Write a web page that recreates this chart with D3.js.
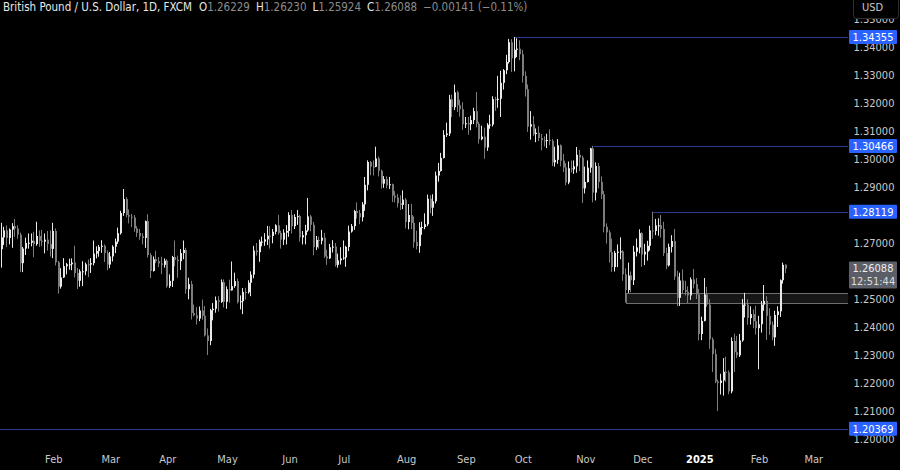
<!DOCTYPE html>
<html>
<head>
<meta charset="utf-8">
<title>British Pound / U.S. Dollar, 1D</title>
<script src="https://cdnjs.cloudflare.com/ajax/libs/d3/7.8.5/d3.min.js"></script>
<style>
  html, body { margin: 0; padding: 0; background: #000; }
  svg { display: block; }
  text { font-family: "Liberation Sans Narrow", "DejaVu Sans Condensed", "Roboto", sans-serif; }
</style>
</head>
<body>
<script>
// daily candles, one [open, high, low, close] row per trading day, one array per month
var jan24 = [
  [1.2620,1.2705,1.2610,1.2678],[1.2678,1.2772,1.2612,1.2720],[1.2720,1.2758,1.2693,1.2745],[1.2745,1.2763,1.2686,1.2718],
  [1.2718,1.2752,1.2695,1.2748],[1.2748,1.2771,1.2683,1.2760],[1.2760,1.2786,1.2722,1.2752],[1.2752,1.2763,1.2715,1.2730],
  [1.2730,1.2737,1.2597,1.2628],[1.2628,1.2686,1.2596,1.2680],[1.2680,1.2719,1.2657,1.2700],[1.2700,1.2734,1.2680,1.2701],
  [1.2701,1.2734,1.2688,1.2708],[1.2708,1.2740,1.2649,1.2696],[1.2696,1.2776,1.2690,1.2725],[1.2725,1.2745,1.2686,1.2708],
  [1.2708,1.2747,1.2688,1.2705],[1.2705,1.2734,1.2663,1.2712],[1.2712,1.2743,1.2673,1.2696],[1.2696,1.2745,1.2652,1.2679]
];
var feb24 = [
  [1.2679,1.2772,1.2646,1.2743],[1.2743,1.2752,1.2620,1.2631],[1.2631,1.2636,1.2519,1.2544],[1.2544,1.2610,1.2537,1.2577],
  [1.2577,1.2646,1.2575,1.2617],[1.2617,1.2629,1.2588,1.2624],[1.2624,1.2644,1.2605,1.2624],[1.2624,1.2645,1.2603,1.2630],
  [1.2630,1.2690,1.2577,1.2593],[1.2593,1.2611,1.2536,1.2565],[1.2565,1.2606,1.2544,1.2599],[1.2599,1.2635,1.2546,1.2599],
  [1.2599,1.2630,1.2585,1.2624],[1.2624,1.2641,1.2578,1.2623],[1.2623,1.2646,1.2593,1.2628],[1.2628,1.2709,1.2620,1.2662],
  [1.2662,1.2688,1.2645,1.2671],[1.2671,1.2693,1.2651,1.2686],[1.2686,1.2710,1.2665,1.2690],[1.2690,1.2695,1.2632,1.2664],
  [1.2664,1.2674,1.2603,1.2623]
];
var mar24 = [
  [1.2623,1.2668,1.2610,1.2652],[1.2652,1.2692,1.2634,1.2687],[1.2687,1.2716,1.2664,1.2705],[1.2705,1.2755,1.2697,1.2735],
  [1.2735,1.2815,1.2730,1.2807],[1.2807,1.2893,1.2797,1.2857],[1.2857,1.2864,1.2792,1.2800],[1.2800,1.2820,1.2770,1.2794],
  [1.2794,1.2804,1.2757,1.2791],[1.2791,1.2800,1.2740,1.2752],[1.2752,1.2760,1.2722,1.2736],[1.2736,1.2750,1.2712,1.2724],
  [1.2724,1.2735,1.2695,1.2718],[1.2718,1.2780,1.2683,1.2778],[1.2778,1.2803,1.2648,1.2657],[1.2657,1.2664,1.2575,1.2600],
  [1.2600,1.2652,1.2598,1.2642],[1.2642,1.2672,1.2628,1.2635],[1.2635,1.2650,1.2614,1.2627],[1.2627,1.2651,1.2589,1.2622],
  [1.2622,1.2645,1.2612,1.2637]
];
var apr24 = [
  [1.2637,1.2643,1.2540,1.2546],[1.2546,1.2588,1.2539,1.2565],[1.2565,1.2654,1.2543,1.2650],[1.2650,1.2709,1.2617,1.2640],
  [1.2640,1.2655,1.2576,1.2635],[1.2635,1.2678,1.2604,1.2664],[1.2664,1.2709,1.2642,1.2675],[1.2675,1.2683,1.2519,1.2535],
  [1.2535,1.2576,1.2499,1.2553],[1.2553,1.2565,1.2427,1.2450],[1.2450,1.2480,1.2438,1.2442],[1.2442,1.2471,1.2409,1.2430],
  [1.2430,1.2473,1.2421,1.2459],[1.2459,1.2498,1.2426,1.2440],[1.2440,1.2475,1.2366,1.2370],[1.2370,1.2395,1.2300,1.2350],
  [1.2350,1.2465,1.2335,1.2460],[1.2460,1.2486,1.2424,1.2465],[1.2465,1.2509,1.2451,1.2495],[1.2495,1.2510,1.2455,1.2490],
  [1.2490,1.2570,1.2486,1.2560],[1.2560,1.2570,1.2470,1.2490]
];
var may24 = [
  [1.2490,1.2545,1.2465,1.2535],[1.2535,1.2569,1.2487,1.2531],[1.2531,1.2634,1.2530,1.2546],[1.2546,1.2594,1.2540,1.2564],
  [1.2564,1.2573,1.2484,1.2489],[1.2489,1.2513,1.2463,1.2492],[1.2492,1.2539,1.2446,1.2525],[1.2525,1.2540,1.2498,1.2524],
  [1.2524,1.2567,1.2519,1.2558],[1.2558,1.2599,1.2510,1.2587],[1.2587,1.2690,1.2574,1.2673],[1.2673,1.2700,1.2655,1.2667],
  [1.2667,1.2712,1.2633,1.2705],[1.2705,1.2723,1.2688,1.2705],[1.2705,1.2735,1.2690,1.2713],[1.2713,1.2761,1.2693,1.2726],
  [1.2726,1.2760,1.2680,1.2725],[1.2725,1.2750,1.2699,1.2740],[1.2740,1.2767,1.2731,1.2763],[1.2763,1.2801,1.2730,1.2736],
  [1.2736,1.2744,1.2680,1.2712],[1.2712,1.2749,1.2693,1.2737],[1.2737,1.2764,1.2695,1.2743]
];
var jun24 = [
  [1.2743,1.2810,1.2722,1.2800],[1.2800,1.2818,1.2734,1.2760],[1.2760,1.2803,1.2750,1.2793],[1.2793,1.2818,1.2765,1.2796],
  [1.2796,1.2801,1.2705,1.2720],[1.2720,1.2743,1.2695,1.2728],[1.2728,1.2765,1.2695,1.2745],[1.2745,1.2861,1.2740,1.2795],
  [1.2795,1.2800,1.2742,1.2765],[1.2765,1.2775,1.2656,1.2685],[1.2685,1.2725,1.2675,1.2711],[1.2711,1.2723,1.2680,1.2708],
  [1.2708,1.2747,1.2695,1.2719],[1.2719,1.2736,1.2647,1.2652],[1.2652,1.2676,1.2622,1.2645],[1.2645,1.2697,1.2643,1.2685],
  [1.2685,1.2710,1.2666,1.2687],[1.2687,1.2700,1.2616,1.2622],[1.2622,1.2662,1.2612,1.2638],[1.2638,1.2685,1.2623,1.2645]
];
var jul24 = [
  [1.2645,1.2709,1.2640,1.2648],[1.2648,1.2690,1.2615,1.2686],[1.2686,1.2762,1.2671,1.2741],[1.2741,1.2768,1.2737,1.2760],
  [1.2760,1.2818,1.2747,1.2814],[1.2814,1.2845,1.2787,1.2807],[1.2807,1.2818,1.2767,1.2792],[1.2792,1.2846,1.2777,1.2838],
  [1.2838,1.2936,1.2815,1.2908],[1.2908,1.2995,1.2888,1.2989],[1.2989,1.2993,1.2942,1.2973],[1.2973,1.2995,1.2941,1.2972],
  [1.2972,1.3044,1.2971,1.3002],[1.3002,1.3009,1.2938,1.2958],[1.2958,1.2962,1.2894,1.2912],[1.2912,1.2939,1.2897,1.2928],
  [1.2928,1.2938,1.2895,1.2906],[1.2906,1.2936,1.2893,1.2910],[1.2910,1.2912,1.2846,1.2869],[1.2869,1.2885,1.2845,1.2862],
  [1.2862,1.2875,1.2827,1.2842],[1.2842,1.2870,1.2818,1.2836],[1.2836,1.2888,1.2821,1.2855]
];
var aug24 = [
  [1.2855,1.2861,1.2752,1.2775],[1.2775,1.2839,1.2749,1.2800],[1.2800,1.2840,1.2750,1.2772],[1.2772,1.2795,1.2683,1.2703],
  [1.2703,1.2744,1.2677,1.2689],[1.2689,1.2774,1.2665,1.2756],[1.2756,1.2776,1.2729,1.2757],[1.2757,1.2806,1.2749,1.2767],
  [1.2767,1.2873,1.2760,1.2858],[1.2858,1.2871,1.2806,1.2826],[1.2826,1.2874,1.2797,1.2849],[1.2849,1.2955,1.2841,1.2941],
  [1.2941,1.2986,1.2919,1.2957],[1.2957,1.3022,1.2955,1.3004],[1.3004,1.3103,1.3002,1.3086],[1.3086,1.3130,1.3079,1.3091],
  [1.3091,1.3229,1.3082,1.3213],[1.3213,1.3230,1.3150,1.3185],[1.3185,1.3266,1.3175,1.3238],[1.3238,1.3244,1.3168,1.3192],
  [1.3192,1.3212,1.3151,1.3178],[1.3178,1.3203,1.3104,1.3124]
];
var sep24 = [
  [1.3124,1.3150,1.3111,1.3128],[1.3128,1.3150,1.3087,1.3124],[1.3124,1.3155,1.3103,1.3139],[1.3139,1.3183,1.3125,1.3171],
  [1.3171,1.3239,1.3113,1.3126],[1.3126,1.3133,1.3055,1.3071],[1.3071,1.3119,1.3067,1.3080],[1.3080,1.3112,1.3001,1.3041],
  [1.3041,1.3128,1.3029,1.3122],[1.3122,1.3158,1.3108,1.3123],[1.3123,1.3224,1.3116,1.3214],[1.3214,1.3222,1.3172,1.3213],
  [1.3213,1.3297,1.3183,1.3215],[1.3215,1.3315,1.3150,1.3272],[1.3272,1.3321,1.3248,1.3317],[1.3317,1.3372,1.3303,1.3346],
  [1.3346,1.3429,1.3341,1.3417],[1.3417,1.3428,1.3311,1.3360],[1.3360,1.34355,1.3313,1.3390],[1.3390,1.3431,1.3364,1.3394],
  [1.3394,1.3424,1.3353,1.3374]
];
var oct24 = [
  [1.3374,1.3390,1.3273,1.3297],[1.3297,1.3313,1.3223,1.3249],[1.3249,1.3266,1.3097,1.3116],[1.3116,1.3171,1.3069,1.3124],
  [1.3124,1.3153,1.3083,1.3089],[1.3089,1.3109,1.3060,1.3094],[1.3094,1.3117,1.3064,1.3075],[1.3075,1.3090,1.3031,1.3067],
  [1.3067,1.3081,1.3045,1.3066],[1.3066,1.3090,1.3039,1.3068],[1.3068,1.3106,1.3049,1.3065],[1.3065,1.3072,1.2975,1.2988],
  [1.2988,1.3044,1.2973,1.2997],[1.2997,1.3071,1.2983,1.3049],[1.3049,1.3052,1.2974,1.2994],[1.2994,1.3018,1.2953,1.2970],
  [1.2970,1.2985,1.2906,1.2916],[1.2916,1.2991,1.2910,1.2967],[1.2967,1.2995,1.2952,1.2963],[1.2963,1.2995,1.2947,1.2974],
  [1.2974,1.3043,1.2951,1.3015],[1.3015,1.3033,1.2957,1.3005],[1.3005,1.3012,1.2843,1.2895]
];
var nov24 = [
  [1.2895,1.2973,1.2877,1.2918],[1.2918,1.2995,1.2916,1.2969],[1.2969,1.3040,1.2951,1.3038],[1.3038,1.30466,1.2845,1.2880],
  [1.2880,1.2988,1.2852,1.2975],[1.2975,1.2986,1.2895,1.2918],[1.2918,1.2938,1.2857,1.2874],[1.2874,1.2886,1.2738,1.2758],
  [1.2758,1.2770,1.2698,1.2738],[1.2738,1.2746,1.2630,1.2667],[1.2667,1.2716,1.2597,1.2614],[1.2614,1.2672,1.2598,1.2665],
  [1.2665,1.2695,1.2614,1.2669],[1.2669,1.2720,1.2642,1.2670],[1.2670,1.2675,1.2565,1.2588],[1.2588,1.2610,1.2487,1.2532],
  [1.2532,1.2630,1.2522,1.2584],[1.2584,1.2598,1.2524,1.2567],[1.2567,1.2690,1.2550,1.2669],[1.2669,1.2716,1.2652,1.2684],
  [1.2684,1.2749,1.2663,1.2735]
];
var dec24 = [
  [1.2735,1.2739,1.2615,1.2659],[1.2659,1.2697,1.2621,1.2669],[1.2669,1.2708,1.2637,1.2690],[1.2690,1.2762,1.2673,1.2745],
  [1.2745,1.28119,1.2715,1.2743],[1.2743,1.2786,1.2728,1.2763],[1.2763,1.2788,1.2726,1.2763],[1.2763,1.2800,1.2719,1.2750],
  [1.2750,1.2776,1.2654,1.2664],[1.2664,1.2683,1.2607,1.2620],[1.2620,1.2698,1.2616,1.2686],[1.2686,1.2728,1.2666,1.2707],
  [1.2707,1.2750,1.2568,1.2580],[1.2580,1.2601,1.2474,1.2504],[1.2504,1.2594,1.2475,1.2566],[1.2566,1.2606,1.2519,1.2532],
  [1.2532,1.2565,1.2513,1.2526],[1.2526,1.2545,1.2486,1.2513],[1.2513,1.2577,1.2497,1.2570],[1.2570,1.2607,1.2538,1.2553],
  [1.2553,1.2575,1.2500,1.2516]
];
var jan25 = [
  [1.2516,1.2536,1.2352,1.2375],[1.2375,1.2437,1.2353,1.2422],[1.2422,1.2575,1.2420,1.2516],[1.2516,1.2543,1.2472,1.2480],
  [1.2480,1.2499,1.2322,1.2356],[1.2356,1.2363,1.2239,1.2303],[1.2303,1.2322,1.2199,1.2205],[1.2205,1.2212,1.2100,1.2200],
  [1.2200,1.2233,1.2159,1.2209],[1.2209,1.2289,1.2155,1.2240],[1.2240,1.2294,1.2204,1.2238],[1.2238,1.2245,1.2160,1.2170],
  [1.2170,1.2363,1.2163,1.2350],[1.2350,1.2376,1.2239,1.2310],[1.2310,1.2368,1.2289,1.2299],[1.2299,1.2375,1.2293,1.2352],
  [1.2352,1.2500,1.2347,1.2480],[1.2480,1.2522,1.2434,1.2480],[1.2480,1.2499,1.2408,1.2432],[1.2432,1.2474,1.2409,1.2446],
  [1.2446,1.2463,1.2396,1.2421],[1.2421,1.2476,1.2373,1.2396]
];
var feb25 = [
  [1.2396,1.2440,1.2249,1.2410],[1.2410,1.2493,1.2380,1.2480],[1.2480,1.2550,1.2458,1.2493],[1.2493,1.2510,1.2354,1.2440],
  [1.2440,1.2467,1.2372,1.2408],[1.2408,1.2420,1.2352,1.2363],[1.2363,1.2458,1.2333,1.2443],[1.2443,1.2474,1.2400,1.2456],
  [1.2456,1.2570,1.2436,1.2567],[1.2567,1.2630,1.2555,1.2622],[1.26229,1.26230,1.25924,1.26088]
];

// trading calendar
var firstDay = "2024-01-04", lastAxisDay = "2025-03-07";
var holidays = ["2024-12-25", "2025-01-01"];
var monthLabels = ["Feb", "Mar", "Apr", "May", "Jun", "Jul", "Aug", "Sep", "Oct", "Nov", "Dec", "2025", "Feb", "Mar"];

// price axis (1.26 and 1.28 sit under the price tags)
var priceTicks = [1.20, 1.21, 1.22, 1.23, 1.24, 1.25, 1.27, 1.29, 1.30, 1.31, 1.32, 1.33, 1.34, 1.35];

// horizontal levels and where they start
var levelPrices = [1.34355, 1.30466, 1.28119, 1.20369];
var levelStarts = ["2024-09-26", "2024-11-06", "2024-12-06", "2024-01-04"];

// support zone
var zoneTop = 1.2522, zoneBottom = 1.2486, zoneStart = "2024-11-22";

var lastPrice = 1.26088, countdown = "12:51:44";
var headerTitle = "British Pound / U.S. Dollar, 1D, FXCM";
var headerValues = [["O", "1.26229"], ["H", "1.26230"], ["L", "1.25924"], ["C", "1.26088"]];
var headerChange = "\u22120.00141 (\u22120.11%)";

var width = 900, height = 470, plotRight = 848;
var upColor = "#e9e9e9", downColor = "#7d7d7d", levelColor = "#2b3a94", labelBlue = "#2962ff";

var parse = d3.timeParse("%Y-%m-%d"), fmt = d3.timeFormat("%Y-%m-%d");
var days = d3.timeDay.range(parse(firstDay), d3.timeDay.offset(parse(lastAxisDay), 1))
  .filter(function(d) { return d.getDay() != 0 && d.getDay() != 6 && holidays.indexOf(fmt(d)) < 0; });
function dayIndex(s) { return days.findIndex(function(d) { return fmt(d) == s; }); }

var rows = [].concat(jan24, feb24, mar24, apr24, may24, jun24, jul24, aug24, sep24, oct24, nov24, dec24, jan25, feb25);
var data = rows.map(function(r, i) { return {i: i, date: days[i], o: r[0], h: r[1], l: r[2], c: r[3]}; });

// set the ranges
var x = d3.scaleLinear().domain([dayIndex("2024-02-01"), dayIndex("2025-01-02")]).range([53.3, 699.3]);
var y = d3.scaleLinear().domain([1.20, 1.34]).range([439, 47]);

var svg = d3.select("body").append("svg")
    .attr("width", width)
    .attr("height", height)
    .style("background", "#000");

svg.append("clipPath").attr("id", "plot")
  .append("rect").attr("x", 0).attr("y", 0).attr("width", plotRight).attr("height", 445);

var plot = svg.append("g").attr("clip-path", "url(#plot)");

// level lines
plot.selectAll(".level")
    .data(levelPrices)
  .enter().append("line")
    .attr("x1", function(d, k) { return x(dayIndex(levelStarts[k])); })
    .attr("x2", plotRight)
    .attr("y1", function(d) { return Math.round(y(d)) + 0.5; })
    .attr("y2", function(d) { return Math.round(y(d)) + 0.5; })
    .style("stroke", levelColor)
    .style("stroke-width", 1);

// support zone
plot.append("rect")
    .attr("x", Math.round(x(dayIndex(zoneStart))) + 0.5)
    .attr("y", Math.round(y(zoneTop)) + 0.5)
    .attr("width", plotRight + 2 - Math.round(x(dayIndex(zoneStart))))
    .attr("height", Math.round(y(zoneBottom)) - Math.round(y(zoneTop)))
    .style("fill", "rgba(255,255,255,0.09)")
    .style("stroke", "#6f6f6f")
    .style("stroke-width", 1);

// wicks and bodies
var candle = plot.selectAll(".candle")
    .data(data)
  .enter().append("g")
    .attr("class", "candle");

candle.append("rect")
    .attr("x", function(d) { return Math.round(x(d.i)) - 1; })
    .attr("width", 1)
    .attr("y", function(d) { return y(d.h); })
    .attr("height", function(d) { return Math.max(1, y(d.l) - y(d.h)); })
    .style("fill", function(d) { return d.c >= d.o ? upColor : downColor; });

candle.append("rect")
    .attr("x", function(d) { return Math.round(x(d.i)) - 1; })
    .attr("width", 2)
    .attr("y", function(d) { return y(Math.max(d.o, d.c)); })
    .attr("height", function(d) { return Math.max(1, Math.abs(y(d.o) - y(d.c))); })
    .style("fill", function(d) { return d.c >= d.o ? upColor : downColor; });

// price axis on the right
var yAxis = svg.append("g")
    .attr("transform", "translate(" + plotRight + ",0)")
    .call(d3.axisRight(y).tickValues(priceTicks).tickFormat(d3.format(".5f")).tickSize(0).tickPadding(0));
yAxis.select(".domain").remove();
yAxis.selectAll("text")
    .attr("x", 26)
    .attr("text-anchor", "middle")
    .style("font-size", "11px")
    .style("fill", "#c9c9c9");

// level labels
var tag = svg.selectAll(".tag")
    .data(levelPrices)
  .enter().append("g")
    .attr("transform", function(d) { return "translate(" + plotRight + "," + y(d) + ")"; });
tag.append("rect")
    .attr("x", 1).attr("y", -7).attr("width", 48).attr("height", 14).attr("rx", 1)
    .style("fill", labelBlue);
tag.append("text")
    .attr("x", 25).attr("dy", "0.35em")
    .attr("text-anchor", "middle")
    .style("font-size", "11px")
    .style("fill", "#fff")
    .text(function(d) { return d3.format(".5f")(d); });

// last price label with countdown
var lp = svg.append("g").attr("transform", "translate(" + plotRight + "," + y(lastPrice) + ")");
lp.append("rect").attr("x", 1).attr("y", -7).attr("width", 48).attr("height", 27).attr("rx", 1).style("fill", "#5b5e66");
lp.append("text").attr("x", 25).attr("dy", "0.35em").attr("text-anchor", "middle")
    .style("font-size", "11px").style("fill", "#eee").text(d3.format(".5f")(lastPrice));
lp.append("text").attr("x", 25).attr("y", 13).attr("dy", "0.35em").attr("text-anchor", "middle")
    .style("font-size", "11px").style("fill", "#ddd").text(countdown);

// currency box, covering most of the top tick
svg.append("rect").attr("x", 853.5).attr("y", -4.5).attr("width", 45).attr("height", 23).attr("rx", 3)
    .style("fill", "#000").style("stroke", "#2e2e2e");
svg.append("text").attr("x", 862).attr("y", 11).style("font-size", "11px").style("fill", "#c9c9c9").text("USD");

// time axis
var monthStarts = [];
days.forEach(function(d, i) { if (i > 0 && d.getMonth() != days[i - 1].getMonth()) monthStarts.push(i); });
var xAxis = svg.append("g")
    .attr("transform", "translate(0,455)")
    .call(d3.axisBottom(x).tickValues(monthStarts).tickFormat(function(d, k) { return monthLabels[k]; }).tickSize(0).tickPadding(0));
xAxis.select(".domain").remove();
xAxis.selectAll("text")
    .attr("dy", "0.71em")
    .style("font-size", "11px")
    .style("font-weight", function(d, k) { return monthLabels[k] == "2025" ? "bold" : "normal"; })
    .style("fill", function(d, k) { return monthLabels[k] == "2025" ? "#fff" : "#c9c9c9"; });

// header
var head = svg.append("text").attr("x", 3).attr("y", 11).style("font-size", "11.5px");
head.append("tspan").style("fill", "#e8e8e8").text(headerTitle);
headerValues.forEach(function(v, k) {
  head.append("tspan").attr("dx", k == 0 ? 7 : 6).style("fill", "#e8e8e8").text(v[0]);
  head.append("tspan").style("fill", "#8c8c8c").text(v[1]);
});
head.append("tspan").attr("dx", 6).style("fill", "#8c8c8c").text(headerChange);
</script>
</body>
